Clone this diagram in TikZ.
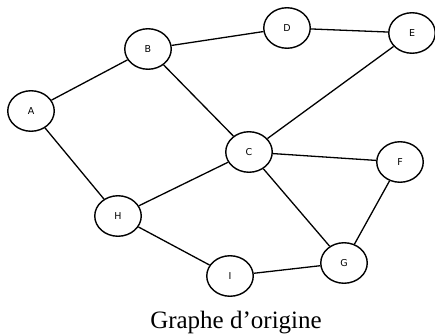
\documentclass[tikz,border=0pt]{standalone}
\usepackage{fontspec}
\newfontfamily\nodefont{DejaVu Sans}
\newfontfamily\capfont{Liberation Serif}
\usetikzlibrary{shapes.geometric}
\begin{document}
\begin{tikzpicture}[x=1pt,y=-1pt,
  vertex/.style={ellipse,draw,line width=1.4pt,minimum width=46.5pt,minimum height=40.5pt,inner sep=0pt,font=\nodefont\fontsize{9.5}{10}\selectfont},
  edge/.style={line width=1.3pt}]
\useasboundingbox (0,0) rectangle (435,336);
\node[vertex] (A) at (31,111) {A};
\node[vertex] (B) at (148,49) {B};
\node[vertex] (D) at (287,28) {D};
\node[vertex] (E) at (412,33) {E};
\node[vertex] (C) at (249,152) {C};
\node[vertex] (F) at (400,162) {F};
\node[vertex] (H) at (118,216) {H};
\node[vertex] (I) at (230,276) {I};
\node[vertex] (G) at (344,263) {G};
\draw[edge] (A) -- (B);
\draw[edge] (A) -- (H);
\draw[edge] (B) -- (D);
\draw[edge] (B) -- (C);
\draw[edge] (D) -- (E);
\draw[edge] (E) -- (C);
\draw[edge] (C) -- (F);
\draw[edge] (C) -- (H);
\draw[edge] (C) -- (G);
\draw[edge] (F) -- (G);
\draw[edge] (H) -- (I);
\draw[edge] (I) -- (G);
\node[anchor=base,font=\capfont\fontsize{25}{28}\selectfont] (cap) at (236,328) {Graphe d’origine};
\end{tikzpicture}
\end{document}
